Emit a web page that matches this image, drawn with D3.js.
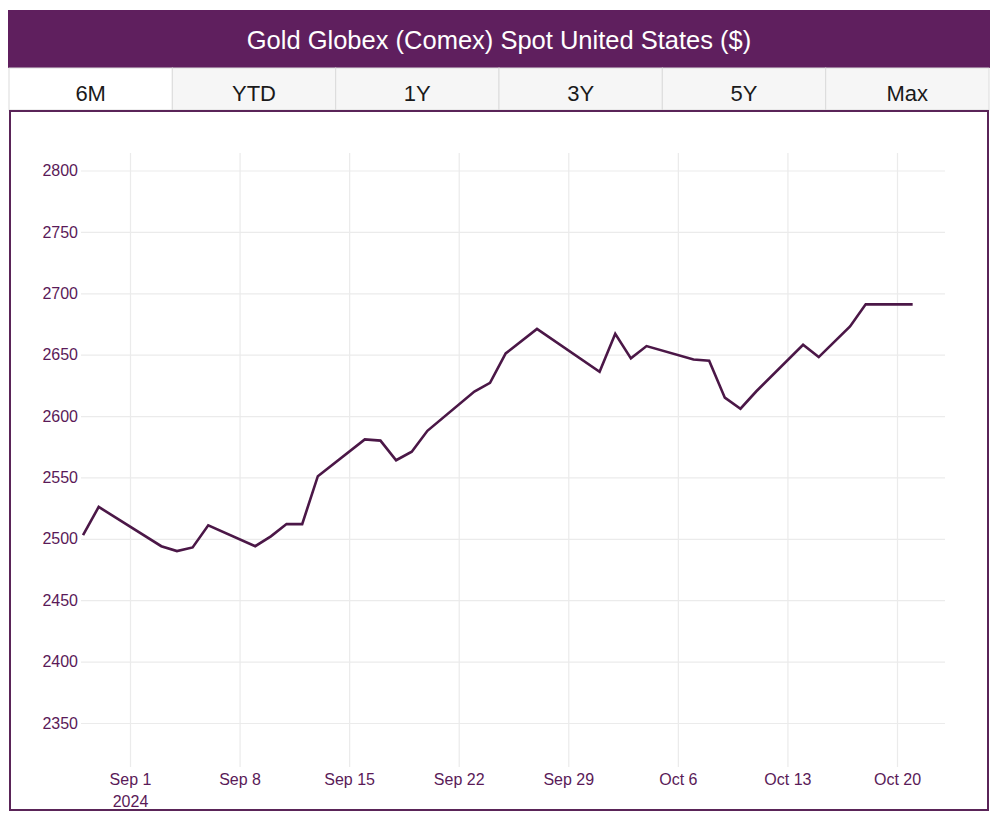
<!DOCTYPE html>
<html>
<head>
<meta charset="utf-8">
<script src="https://cdn.jsdelivr.net/npm/d3@7"></script>
<style>
  html, body { margin: 0; padding: 0; background: #fff; }
  svg { display: block; font-family: "Liberation Sans", Arial, Helvetica, sans-serif; }
</style>
</head>
<body>
<svg id="chart" width="1000" height="830"></svg>
<script>
const title = "Gold Globex (Comex) Spot United States ($)";
const tabs = ["6M", "YTD", "1Y", "3Y", "5Y", "Max"];

const dates = ["2024-08-29","2024-08-30","2024-09-03","2024-09-04","2024-09-05","2024-09-06",
  "2024-09-09","2024-09-10","2024-09-11","2024-09-12","2024-09-13",
  "2024-09-16","2024-09-17","2024-09-18","2024-09-19","2024-09-20",
  "2024-09-23","2024-09-24","2024-09-25","2024-09-27",
  "2024-10-01","2024-10-02","2024-10-03","2024-10-04",
  "2024-10-07","2024-10-08","2024-10-09","2024-10-10","2024-10-11",
  "2024-10-14","2024-10-15","2024-10-17","2024-10-18","2024-10-21"];
const prices = [2503, 2526, 2494, 2490, 2493, 2511,
  2494, 2502, 2512, 2512, 2551,
  2581, 2580, 2564, 2571, 2588,
  2620, 2627, 2651, 2671,
  2636, 2667, 2647, 2657,
  2646, 2645, 2615, 2606, 2620,
  2658, 2648, 2673, 2691, 2691];

const xTickDates = ["2024-09-01","2024-09-08","2024-09-15","2024-09-22","2024-09-29","2024-10-06","2024-10-13","2024-10-20"];
const xTickLabels = ["Sep 1","Sep 8","Sep 15","Sep 22","Sep 29","Oct 6","Oct 13","Oct 20"];
const yTicks = [2350, 2400, 2450, 2500, 2550, 2600, 2650, 2700, 2750, 2800];

const parse = d3.timeParse("%Y-%m-%d");
const data = dates.map((d, i) => ({ date: parse(d), value: prices[i] }));
const xTicks = xTickDates.map(parse);

const svg = d3.select("#chart");
const purple = "#5f1f5e";
const textPurple = "#5a1a58";
const lineColor = "#4b1747";

// Title bar
svg.append("rect").attr("x", 8).attr("y", 10).attr("width", 982).attr("height", 58).attr("fill", purple);
svg.append("text").attr("x", 499).attr("y", 40).attr("text-anchor", "middle")
  .attr("dominant-baseline", "central").attr("fill", "#fff").attr("font-size", 25.5).text(title);

// Tabs
const tabX = d3.scaleBand().domain(tabs).range([9, 989]);
const tabG = svg.append("g");
tabs.forEach((t, i) => {
  tabG.append("rect").attr("x", tabX(t)).attr("y", 68).attr("width", tabX.bandwidth()).attr("height", 42)
    .attr("fill", i === 0 ? "#fff" : "#f6f6f6").attr("stroke", "#dcdcdc").attr("stroke-width", 1);
  tabG.append("text").attr("x", tabX(t) + tabX.bandwidth() / 2).attr("y", 93.5)
    .attr("text-anchor", "middle").attr("dominant-baseline", "central")
    .attr("font-size", 22).attr("fill", "#1a1a1a").text(t);
});

// Chart box
svg.append("rect").attr("x", 10).attr("y", 111).attr("width", 978).attr("height", 699)
  .attr("fill", "#fff").attr("stroke", "#5a2458").attr("stroke-width", 2);

// Scales
const x = d3.scaleTime().domain([xTicks[0], xTicks[xTicks.length - 1]]).range([130, 897]);
const y = d3.scaleLinear().domain([2350, 2800]).range([723, 170.5]);
const plotLeft = 81, plotRight = 945, plotTop = 153, plotBottom = 767;

// Horizontal grid + y labels
const yAxis = d3.axisLeft(y).tickValues(yTicks).tickSize(-(plotRight - plotLeft)).tickPadding(3).tickFormat(d3.format("d"));
const gy = svg.append("g").attr("transform", `translate(${plotLeft},0)`).call(yAxis);
gy.select(".domain").remove();
gy.selectAll(".tick line").attr("stroke", "#ebebeb").attr("stroke-width", 1.2);
gy.selectAll(".tick text").attr("fill", textPurple).attr("font-size", 16).attr("x", -3);

// Vertical grid + x labels
const xAxis = d3.axisBottom(x).tickValues(xTicks).tickSize(-(plotBottom - plotTop)).tickPadding(6)
  .tickFormat((d, i) => xTickLabels[i]);
const gx = svg.append("g").attr("transform", `translate(0,${plotBottom})`).call(xAxis);
gx.select(".domain").remove();
gx.selectAll(".tick line").attr("stroke", "#ebebeb").attr("stroke-width", 1.2);
gx.selectAll(".tick text").attr("fill", textPurple).attr("font-size", 16).attr("dy", "0.75em").attr("y", 6);
// year under first tick
gx.select(".tick").append("text").attr("y", 28).attr("dy", "0.75em").attr("fill", textPurple)
  .attr("font-size", 16).attr("text-anchor", "middle").text("2024");

// Line
const line = d3.line().x(d => x(d.date)).y(d => y(d.value));
svg.append("path").datum(data).attr("d", line).attr("fill", "none")
  .attr("stroke", lineColor).attr("stroke-width", 2.6).attr("stroke-linejoin", "miter");
</script>
</body>
</html>
